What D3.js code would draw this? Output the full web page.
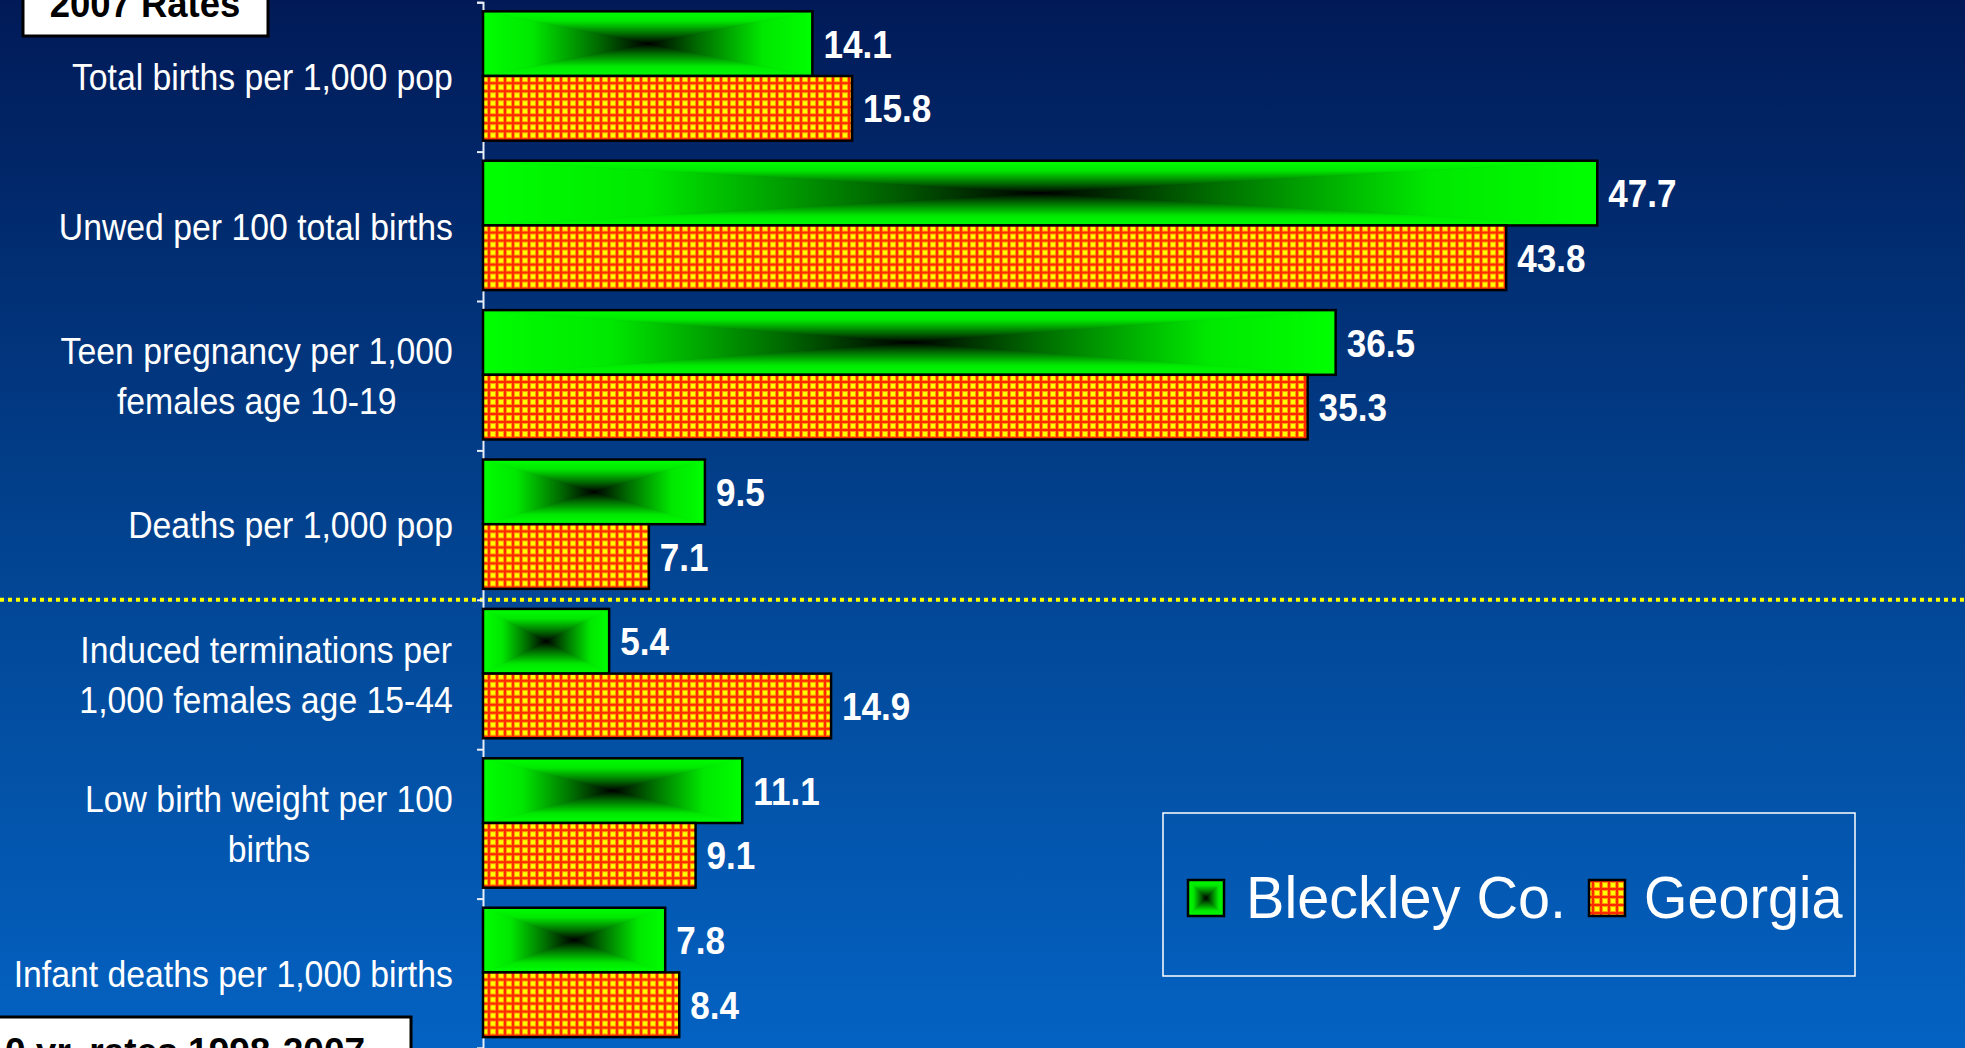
<!DOCTYPE html>
<html>
<head>
<meta charset="utf-8">
<script src="https://cdn.jsdelivr.net/npm/d3@7"></script>
<style>
  html, body { margin: 0; padding: 0; background: #0a2a6e; overflow: hidden; }
  svg { display: block; }
  text { font-family: "Liberation Sans", Arial, Helvetica, sans-serif; }
</style>
</head>
<body>
<svg id="chart" width="1965" height="1048"></svg>
<script>
// ---------------- data ----------------
const categories = [
  "Total births per 1,000 pop",
  "Unwed per 100 total births",
  "Teen pregnancy per 1,000\nfemales age 10-19",
  "Deaths per 1,000 pop",
  "Induced terminations per\n1,000 females age 15-44",
  "Low birth weight per 100\nbirths",
  "Infant deaths per 1,000 births"
];
const seriesNames = ["Bleckley Co.", "Georgia"];
const bleckley = [14.1, 47.7, 36.5, 9.5, 5.4, 11.1, 7.8];
const georgia  = [15.8, 43.8, 35.3, 7.1, 14.9, 9.1, 8.4];
const boxTop = "2007 Rates";
const boxBottom = "10 yr. rates 1998-2007";
const dividerAfter = 4; // dotted divider after the 4th category

// ---------------- setup ----------------
const W = 1965, H = 1048;
const svg = d3.select("#chart");
const defs = svg.append("defs");

// background gradient
const bg = defs.append("linearGradient").attr("id", "bg")
  .attr("x1", 0).attr("y1", 0).attr("x2", 0).attr("y2", 1);
bg.append("stop").attr("offset", 0).attr("stop-color", "#011a57");
bg.append("stop").attr("offset", 0.57).attr("stop-color", "#024796");
bg.append("stop").attr("offset", 1).attr("stop-color", "#0462c2");
svg.append("rect").attr("width", W).attr("height", H).attr("fill", "url(#bg)");

// green "from center" gradients (four directions)
function lg(id, x1, y1, x2, y2) {
  const g = defs.append("linearGradient").attr("id", id)
    .attr("x1", x1).attr("y1", y1).attr("x2", x2).attr("y2", y2);
  g.append("stop").attr("offset", 0).attr("stop-color", "#00ff00");
  g.append("stop").attr("offset", 0.3).attr("stop-color", "#00e800");
  g.append("stop").attr("offset", 0.7).attr("stop-color", "#006a00");
  g.append("stop").attr("offset", 1).attr("stop-color", "#000000");
}
lg("gTop", 0, 0, 0, 1);
lg("gBot", 0, 1, 0, 0);
lg("gLeft", 0, 0, 1, 0);
lg("gRight", 1, 0, 0, 0);

// Georgia check pattern
const pat = defs.append("pattern").attr("id", "check")
  .attr("patternUnits", "userSpaceOnUse").attr("width", 8).attr("height", 8);
pat.append("rect").attr("width", 8).attr("height", 8).attr("fill", "#ff2a00");
pat.append("rect").attr("x", 2).attr("y", 2).attr("width", 6).attr("height", 6).attr("fill", "#ff9a00");
pat.append("rect").attr("x", 3).attr("y", 3).attr("width", 4).attr("height", 4).attr("fill", "#ffff00");

// scales
const axisX = 483;
const y0 = 2.2, y1 = 1048;
const y = d3.scaleBand().domain(categories).range([y0, y1]).padding(0);
const bw = y.bandwidth();
const ySub = d3.scaleBand().domain(seriesNames).range([bw * 0.061, bw * 0.927]).padding(0);
const x = d3.scaleLinear().domain([0, 60]).range([axisX, axisX + 60 * 23.36]);

const rows = categories.map((c, i) => ({ cat: c, vals: [bleckley[i], georgia[i]] }));

// condensed text helper
function ctext(parent, tx, ty, str, size, sx, opts = {}) {
  const t = parent.append("text")
    .attr("transform", `translate(${tx},${ty}) scale(${sx},1)`)
    .attr("font-size", size)
    .attr("fill", opts.fill || "#fff")
    .attr("font-weight", opts.bold ? "bold" : "normal")
    .attr("text-anchor", opts.anchor || "start")
    .text(str);
  if (opts.dy) t.attr("dy", opts.dy);
  return t;
}

// dotted divider
svg.append("line")
  .attr("x1", 0).attr("x2", W)
  .attr("y1", y(categories[dividerAfter])).attr("y2", y(categories[dividerAfter]))
  .attr("stroke", "#ffff00").attr("stroke-width", 4)
  .attr("stroke-dasharray", "4 4");

// axis (ticks at category boundaries)
const yb = d3.scaleLinear().domain([0, categories.length]).range([y0, y1]);
const axisG = svg.append("g").attr("transform", `translate(${axisX},0)`)
  .call(d3.axisLeft(yb).ticks(categories.length).tickSize(6).tickSizeOuter(6).tickFormat(""));
axisG.selectAll("path,line").attr("stroke", "#e8eef8").attr("stroke-width", 2);

// bars
const groups = svg.append("g").selectAll("g").data(rows).join("g")
  .attr("transform", d => `translate(0,${y(d.cat)})`);

function greenBar(sel, x0, x1, t, b) {
  const cx = (x0 + x1) / 2, cy = (t + b) / 2;
  const tris = [
    { pts: [[x0, t], [x1, t], [cx, cy]], g: "gTop" },
    { pts: [[x0, b], [x1, b], [cx, cy]], g: "gBot" },
    { pts: [[x0, t], [x0, b], [cx, cy]], g: "gLeft" },
    { pts: [[x1, t], [x1, b], [cx, cy]], g: "gRight" }
  ];
  sel.selectAll("polygon.tri").data(tris).join("polygon").attr("class", "tri")
    .attr("points", d => d.pts.map(p => p.join(",")).join(" "))
    .attr("fill", d => `url(#${d.g})`)
    .attr("stroke", d => `url(#${d.g})`)
    .attr("stroke-width", 0.8)
    .attr("stroke-linejoin", "round");
  sel.append("rect").attr("x", x0).attr("y", t).attr("width", x1 - x0).attr("height", b - t)
    .attr("fill", "none").attr("stroke", "#000").attr("stroke-width", 2.5);
}

groups.each(function (d) {
  const g = d3.select(this);
  const h0 = ySub.bandwidth();
  // Bleckley
  const t0 = ySub(seriesNames[0]);
  greenBar(g.append("g"), x(0), x(d.vals[0]), t0, t0 + h0);
  // Georgia
  const t1 = ySub(seriesNames[1]);
  g.append("rect").attr("x", x(0)).attr("y", t1)
    .attr("width", x(d.vals[1]) - x(0)).attr("height", h0)
    .attr("fill", "url(#check)").attr("stroke", "#000").attr("stroke-width", 2.5);
  // value labels
  d.vals.forEach((v, k) => {
    ctext(g, x(v) + 11, ySub(seriesNames[k]) + h0 / 2, v.toFixed(1), 39, 0.9,
      { bold: true, dy: "0.36em" });
  });
});

// category labels (centered lines, block right-aligned)
const labelRight = 453;
const lineGap = 50;
const catSize = 37, catSx = 0.913;
rows.forEach(d => {
  const lines = d.cat.split("\n");
  const cy = y(d.cat) + bw / 2;
  const tg = svg.append("g");
  const probe = lines.map(ln => {
    const p = tg.append("text").attr("font-size", catSize).text(ln);
    const w = p.node().getComputedTextLength() * catSx;
    p.remove();
    return w;
  });
  const maxW = d3.max(probe);
  const cx = labelRight - maxW / 2;
  lines.forEach((ln, i) => {
    ctext(tg, cx, cy + (i - (lines.length - 1) / 2) * lineGap, ln, catSize, catSx,
      { anchor: "middle", dy: "0.36em" });
  });
});

// legend
const lg0 = svg.append("g");
lg0.append("rect").attr("x", 1163).attr("y", 813).attr("width", 692).attr("height", 163)
  .attr("fill", "none").attr("stroke", "#ffffff").attr("stroke-width", 1.5);
const legendItems = [
  { name: seriesNames[0], sx: 1188, tx: 1246, kind: "green", scx: 0.96 },
  { name: seriesNames[1], sx: 1589, tx: 1644, kind: "check", scx: 0.93 }
];
legendItems.forEach(it => {
  const sy = 880, ss = 36;
  if (it.kind === "green") {
    greenBar(lg0.append("g"), it.sx, it.sx + ss, sy, sy + ss);
  } else {
    lg0.append("rect").attr("x", it.sx).attr("y", sy).attr("width", ss).attr("height", ss)
      .attr("fill", "url(#check)").attr("stroke", "#000").attr("stroke-width", 2.5);
  }
  ctext(lg0, it.tx, 918, it.name, 60, it.scx);
});

// corner boxes
svg.append("rect").attr("x", 23).attr("y", -40).attr("width", 245).attr("height", 76)
  .attr("fill", "#fff").attr("stroke", "#000").attr("stroke-width", 3);
ctext(svg, 145, 17, boxTop, 38, 0.96, { bold: true, fill: "#000", anchor: "middle" });

svg.append("rect").attr("x", -10).attr("y", 1017).attr("width", 421).attr("height", 80)
  .attr("fill", "#fff").attr("stroke", "#000").attr("stroke-width", 3);
ctext(svg, 5 - 0.556 * 37, 1064, boxBottom, 37, 1, { bold: true, fill: "#000" });
</script>
</body>
</html>
